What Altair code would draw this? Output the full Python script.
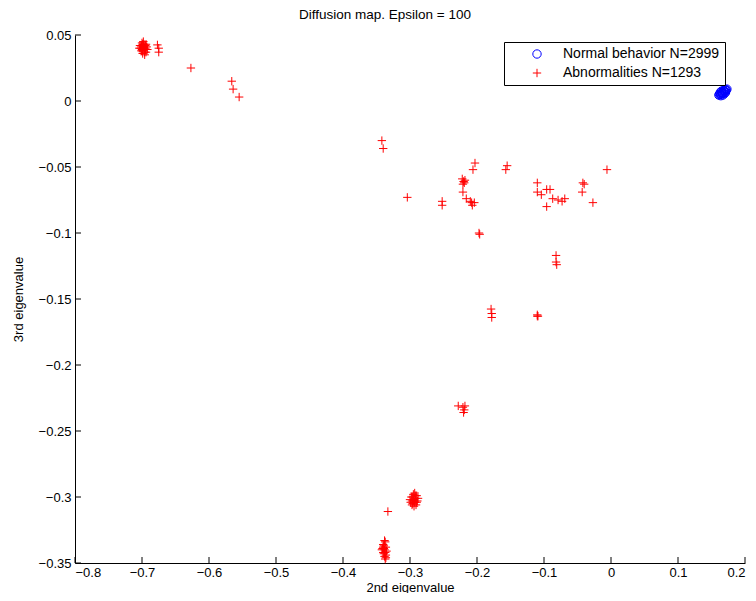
import altair as alt
import pandas as pd

# ---- data ----
normal_x = [0.161, 0.162, 0.163, 0.164, 0.165, 0.166, 0.167, 0.168, 0.169, 0.170, 0.171,
            0.172, 0.173, 0.163, 0.165, 0.167, 0.169, 0.171, 0.166, 0.168, 0.164, 0.170]
normal_y = [0.0045, 0.005, 0.0055, 0.005, 0.006, 0.0065, 0.006, 0.007, 0.0075, 0.007, 0.008,
            0.0085, 0.009, 0.0065, 0.0075, 0.0045, 0.0055, 0.0065, 0.0055, 0.008, 0.004, 0.0085]

# dense abnormal cluster, top left
c1_x = [-0.704, -0.701, -0.699, -0.697, -0.695, -0.693, -0.700, -0.696, -0.702, -0.698, -0.694,
        -0.692, -0.699, -0.697, -0.701, -0.695, -0.703, -0.698, -0.696, -0.700, -0.694, -0.699,
        -0.697, -0.701, -0.695]
c1_y = [0.040, 0.042, 0.038, 0.043, 0.039, 0.041, 0.044, 0.037, 0.040, 0.041, 0.043, 0.039,
        0.036, 0.040, 0.038, 0.042, 0.042, 0.045, 0.035, 0.039, 0.037, 0.043, 0.041, 0.041, 0.040]
# dense cluster near (-0.296, -0.301)
c2_x = [-0.294, -0.298, -0.290, -0.296, -0.292, -0.300, -0.288, -0.295, -0.291, -0.297,
        -0.293, -0.289, -0.299, -0.294, -0.292, -0.296, -0.290, -0.295, -0.293, -0.297]
c2_y = [-0.302, -0.300, -0.304, -0.305, -0.299, -0.302, -0.301, -0.298, -0.306, -0.303,
        -0.304, -0.303, -0.304, -0.307, -0.301, -0.300, -0.299, -0.303, -0.297, -0.306]
# dense cluster near (-0.338, -0.339)
c3_x = [-0.338, -0.340, -0.336, -0.339, -0.337, -0.341, -0.335, -0.338, -0.340, -0.336,
        -0.339, -0.337, -0.342, -0.338, -0.336, -0.339, -0.337, -0.340]
c3_y = [-0.340, -0.336, -0.338, -0.343, -0.334, -0.339, -0.341, -0.345, -0.342, -0.344,
        -0.337, -0.347, -0.340, -0.333, -0.346, -0.339, -0.342, -0.338]
# scattered abnormal points
sp_x = [-0.677, -0.675, -0.675, -0.627, -0.566, -0.564, -0.555,
        -0.342, -0.340, -0.304, -0.252, -0.252,
        -0.222, -0.220, -0.218, -0.221, -0.219, -0.221, -0.216,
        -0.210, -0.207, -0.204, -0.208, -0.203, -0.206, -0.197, -0.196,
        -0.155, -0.157, -0.110, -0.110, -0.104, -0.096, -0.091, -0.096,
        -0.087, -0.079, -0.073, -0.069, -0.042, -0.040, -0.043, -0.027, -0.006,
        -0.179, -0.178, -0.178, -0.110, -0.109, -0.110,
        -0.082, -0.082, -0.081,
        -0.228, -0.221, -0.219, -0.220, -0.218, -0.333]
sp_y = [0.0425, 0.040, 0.037, 0.025, 0.015, 0.009, 0.003,
        -0.030, -0.036, -0.073, -0.076, -0.079,
        -0.059, -0.061, -0.060, -0.063, -0.062, -0.069, -0.074,
        -0.076, -0.079, -0.077, -0.077, -0.047, -0.052, -0.100, -0.101,
        -0.049, -0.052, -0.062, -0.069, -0.071, -0.067, -0.067, -0.080,
        -0.074, -0.075, -0.076, -0.074, -0.062, -0.063, -0.069, -0.077, -0.052,
        -0.1576, -0.161, -0.164, -0.163, -0.163, -0.162,
        -0.117, -0.122, -0.124,
        -0.231, -0.232, -0.234, -0.236, -0.231, -0.311]

abn_x = c1_x + c2_x + c3_x + sp_x
abn_y = c1_y + c2_y + c3_y + sp_y

labels = ["Normal behavior N=2999", "Abnormalities N=1293"]
x_ticks = [-0.8, -0.7, -0.6, -0.5, -0.4, -0.3, -0.2, -0.1, 0, 0.1, 0.2]
y_ticks = [0.05, 0, -0.05, -0.1, -0.15, -0.2, -0.25, -0.3, -0.35]

df = pd.DataFrame({
    "x": normal_x + abn_x,
    "y": normal_y + abn_y,
    "group": [labels[0]] * len(normal_x) + [labels[1]] * len(abn_x),
})

W, H = 670, 528
FONT = "Liberation Sans"
PLUS = "M-1,0H1M0,-1V1"

xscale = alt.Scale(domain=[-0.8, 0.2], nice=False, zero=False)
yscale = alt.Scale(domain=[-0.35, 0.05], nice=False, zero=False)

xaxis = alt.Axis(values=x_ticks, format="~g", title="2nd eigenvalue", ticks=False,
                 grid=False, domainColor="black", labelFont=FONT, labelFontSize=13,
                 labelColor="black", labelPadding=3, titleFont=FONT, titleFontSize=13,
                 titleFontWeight="normal", titleColor="black", titlePadding=2)
yaxis = alt.Axis(values=y_ticks, format="~g", title="3rd eigenvalue", ticks=False,
                 grid=False, domainColor="black", labelFont=FONT, labelFontSize=13,
                 labelColor="black", labelPadding=4, titleFont=FONT, titleFontSize=13,
                 titleFontWeight="normal", titleColor="black", titlePadding=13)

legend = alt.Legend(
    orient="none", legendX=429, legendY=7,
    title=" ", titleOrient="left", titlePadding=21, titleFont=FONT, titleFontSize=14,
    strokeColor="black", fillColor="white", padding=5,
    labelOffset=19, rowPadding=5,
    labelFont=FONT, labelFontSize=14, labelColor="black",
    symbolSize=70, symbolStrokeWidth=1,
)

points = alt.Chart(df).mark_point(filled=False, size=70, strokeWidth=1, opacity=1).encode(
    x=alt.X("x:Q", scale=xscale, axis=xaxis),
    y=alt.Y("y:Q", scale=yscale, axis=yaxis),
    color=alt.Color("group:N", scale=alt.Scale(domain=labels, range=["#0000ff", "#ff0000"]),
                    legend=legend),
    shape=alt.Shape("group:N", scale=alt.Scale(domain=labels, range=["circle", PLUS]),
                    legend=legend),
)

xt = alt.Chart(pd.DataFrame({"x": x_ticks})).mark_rule(color="black", strokeWidth=1).encode(
    x=alt.X("x:Q", scale=xscale, axis=xaxis), y=alt.value(H), y2=alt.value(H - 6))
yt = alt.Chart(pd.DataFrame({"y": y_ticks})).mark_rule(color="black", strokeWidth=1).encode(
    y=alt.Y("y:Q", scale=yscale, axis=yaxis), x=alt.value(0), x2=alt.value(6))

chart = alt.layer(points, xt, yt).properties(
    width=W, height=H,
    title=alt.Title("Diffusion map. Epsilon = 100", font=FONT, fontSize=13.5,
                    fontWeight="normal", color="black", offset=8, dx=-25),
    autosize=alt.AutoSizeParams(type="none"),
    padding={"left": 67, "top": 27, "right": 3, "bottom": 30},
).configure_view(stroke=None)

chart.save("out.html", embed_options={"renderer": "svg", "actions": False})
